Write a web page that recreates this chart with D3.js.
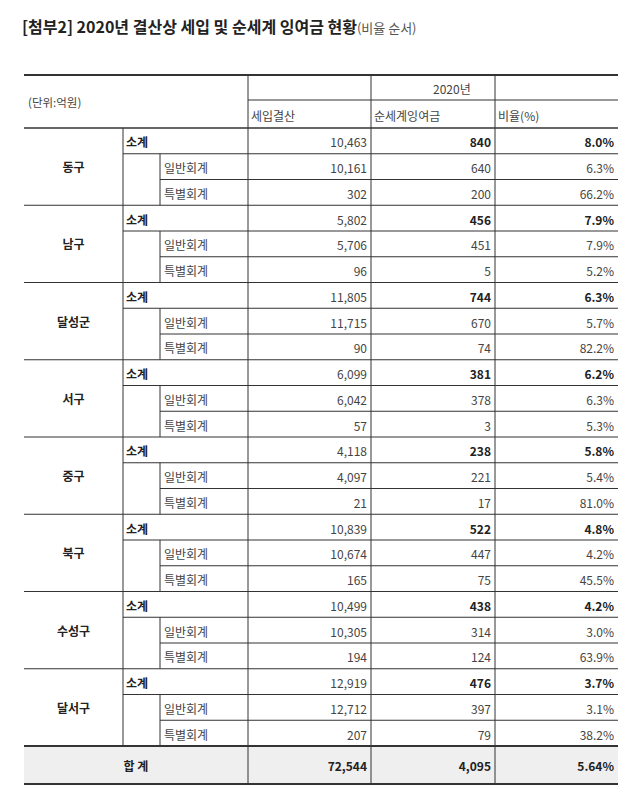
<!DOCTYPE html><html><head><meta charset="utf-8"><script src="https://cdn.jsdelivr.net/npm/d3@7"></script>
<style>body{margin:0;background:#fff}</style></head><body><svg id="c" width="640" height="803"></svg>
<script>
const districts=["동구","남구","달성군","서구","중구","북구","수성구","달서구"];
const revenue=[[10463,10161,302],[5802,5706,96],[11805,11715,90],[6099,6042,57],[4118,4097,21],[10839,10674,165],[10499,10305,194],[12919,12712,207]];
const surplus=[[840,640,200],[456,451,5],[744,670,74],[381,378,3],[238,221,17],[522,447,75],[438,314,124],[476,397,79]];
const ratio=[["8.0%","6.3%","66.2%"],["7.9%","7.9%","5.2%"],["6.3%","5.7%","82.2%"],["6.2%","6.3%","5.3%"],["5.8%","5.4%","81.0%"],["4.8%","4.2%","45.5%"],["4.2%","3.0%","63.9%"],["3.7%","3.1%","38.2%"]];
const subLabels=["소계","일반회계","특별회계"];
const colHeaders=["세입결산","순세계잉여금","비율(%)"];
const total=["72,544","4,095","5.64%"];

const svg=d3.select("#c"),F="'Noto Sans CJK KR','Noto Sans',sans-serif",ink="#333";
const fmt=d3.format(",");
const X=[24,123,160,248,371,495,618];
const tTop=75,mid=100,hb=128,gh=77.25,rh=gh/3;
const y=d3.scaleLinear().domain([0,districts.length]).range([hb,hb+gh*districts.length]);
const tb=y(districts.length),tt=784;
svg.append("text").attr("x",22).attr("y",33).attr("font-family",F).attr("font-size",16).attr("font-weight",700).attr("fill","#222")
 .text("[첨부2] 2020년 결산상 세입 및 순세계 잉여금 현황").append("tspan").attr("font-weight",400).attr("font-size",13).attr("fill","#555").text("(비율 순서)");
svg.append("rect").attr("x",X[0]).attr("y",tb).attr("width",X[6]-X[0]).attr("height",tt-tb).attr("fill","#efefef");
function line(x1,y1,x2,y2,w){svg.append("line").attr("x1",x1).attr("y1",y1).attr("x2",x2).attr("y2",y2).attr("stroke",ink).attr("stroke-width",w||1);}
function txt(x,yy,s,a,b,sz){svg.append("text").attr("x",x).attr("y",yy).attr("text-anchor",a||"start").attr("dominant-baseline","central").attr("font-family",F).attr("font-size",sz||12).attr("font-weight",b?700:400).attr("fill",b?"#222":"#444").text(s);}
txt(28,(tTop+hb)/2,"(단위:억원)","start",false,11.5);
txt((X[3]+X[6])/2,(tTop+mid)/2+1,"2020년");
colHeaders.forEach((h,i)=>txt(X[3+i]+3,(mid+hb)/2+1,h));
line(X[3],mid,X[6],mid);
[3,4,5].forEach(i=>line(X[i],tTop,X[i],tt));
line(X[1],hb,X[1],tb);
districts.forEach((d,g)=>{
  const y0=y(g);
  txt((X[0]+X[1])/2,y0+gh/2,d,"middle",true);
  line(X[2],y0+rh,X[2],y0+gh);
  for(let r=0;r<3;r++){
    const cy=y0+rh*r+rh/2+1,b=r===0;
    txt(r===0?X[1]+3:X[2]+4,cy,subLabels[r],"start",b);
    txt(X[4]-4,cy,fmt(revenue[g][r]),"end",false);
    txt(X[5]-4,cy,fmt(surplus[g][r]),"end",b);
    txt(X[6]-4,cy,ratio[g][r],"end",b);
  }
  line(X[1],y0+rh,X[6],y0+rh);
  line(X[2],y0+2*rh,X[6],y0+2*rh);
  if(g>0)line(X[0],y0,X[6],y0);
});
txt((X[0]+X[3])/2,(tb+tt)/2,"합 계","middle",true);
total.forEach((t,i)=>txt(X[4+i]-4,(tb+tt)/2,t,"end",true));
line(X[0],tTop,X[6],tTop,2);line(X[0],hb,X[6],hb,1.5);line(X[0],tb,X[6],tb,2);line(X[0],tt,X[6],tt,2);
</script></body></html>
